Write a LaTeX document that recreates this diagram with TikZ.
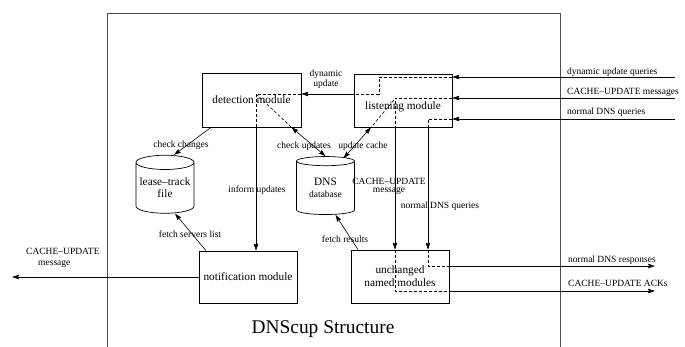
\documentclass[tikz,border=0pt]{standalone}
\usepackage{fontspec}
\setmainfont{Liberation Serif}
\usetikzlibrary{arrows.meta, shapes.geometric, positioning}

\tikzset{
    modulo/.style = {draw, line width=0.7pt, inner sep=0pt, align=center, font=\fontsize{11.3}{13}\selectfont},
    archivio/.style = {draw, cylinder, shape border rotate=90, aspect=0.28, line width=0.7pt, inner sep=0pt, align=center, minimum width=58pt, minimum height=58pt},
    etich/.style = {inner sep=0pt, align=center, font=\fontsize{9.5}{8}\selectfont},
    freccia/.style = {-{Stealth[length=7pt,width=4.5pt,inset=1pt]}, line width=0.6pt},
    dfreccia/.style = {{Stealth[length=7pt,width=4.5pt,inset=1pt]}-{Stealth[length=7pt,width=4.5pt,inset=1pt]}, line width=0.6pt},
    tratt/.style = {line width=0.6pt, dash pattern=on 3pt off 2pt},
}

\begin{document}
\begin{tikzpicture}[x=1pt, y=-1pt]
    % Parametri
    \pgfmathsetmacro{\lmod}{98}
    \pgfmathsetmacro{\hmod}{53}
    \useasboundingbox (0,0) rectangle (685,347);
    % Cornice
    \draw[line width=1pt, black!70] (107,347) -- (107,14) -- (560,14) -- (560,347);
    \node[inner sep=0pt, font=\fontsize{19.4}{20}\selectfont] (titolo) at (323,329) {DNScup Structure};
    % Moduli
    \node[modulo, minimum width=99pt, minimum height=54pt] (det) at (251.5,100) {detection module};
    \node[modulo, minimum width=\lmod pt, minimum height=\hmod pt] (ascolto) at (403,100.5) {};
    \node[modulo, draw=none] (ascoltotxt) at ([yshift=-6pt]ascolto.center) {listening module};
    \node[modulo, minimum width=\lmod pt, minimum height=52pt] (notif) at (248,277) {notification module};
    \node[modulo, minimum width=\lmod pt, minimum height=\hmod pt] (invariato) at (400,276.5) {unchanged\\named modules};
    % Archivi
    \node[archivio] (lease) at (165,188) {\fontsize{11.3}{11}\selectfont lease--track\\\fontsize{11.3}{11}\selectfont file};
    \node[archivio] (dnsdb) at (325.5,188) {\fontsize{11.3}{13}\selectfont DNS\\\fontsize{9.5}{11}\selectfont database};
    % Punti di ingresso e uscita
    \coordinate (inDyn) at (675,77);
    \coordinate (inCache) at (675,98);
    \coordinate (inQuery) at (675,119);
    \coordinate (outCache) at (12,277);
    \coordinate (outResp) at (655,266);
    \coordinate (outAck) at (655,291);
    % Punti di piega
    \coordinate (kDyn) at (379,94);
    \coordinate (kDet) at (256,94);
    \coordinate (kCache) at (395,98);
    \coordinate (kQuery) at (428,119);
    \coordinate (kUpd) at (394,100);
    % dynamic update
    \draw[freccia] (inDyn) -- (ascolto.east |- inDyn);
    \draw[tratt] (ascolto.east |- inDyn) -| (kDyn) -- (ascolto.west |- kDyn);
    \draw[freccia] (ascolto.west |- kDyn) -- (det.east |- kDyn);
    \draw[tratt] (det.east |- kDet) -- (kDet) -- (kDet |- det.south);
    \draw[freccia] (kDet |- det.south) -- (kDet |- notif.north);
    % CACHE-UPDATE
    \draw[freccia] (inCache) -- (ascolto.east |- inCache);
    \draw[tratt] (ascolto.east |- inCache) -- (kCache) -- (kCache |- ascolto.south);
    \draw[freccia] (kCache |- ascolto.south) -- (kCache |- invariato.north);
    \draw[tratt] (kCache |- invariato.north) |- (invariato.east |- outAck);
    \draw[freccia] (invariato.east |- outAck) -- (outAck);
    % normal DNS
    \draw[freccia] (inQuery) -- (ascolto.east |- inQuery);
    \draw[tratt] (ascolto.east |- inQuery) -- (kQuery) -- (kQuery |- ascolto.south);
    \draw[freccia] (kQuery |- ascolto.south) -- (kQuery |- invariato.north);
    \draw[tratt] (kQuery |- invariato.north) |- (invariato.east |- outResp);
    \draw[freccia] (invariato.east |- outResp) -- (outResp);
    % update cache e check updates
    \draw[tratt] (kUpd) -- ([xshift=-32pt]ascolto.south);
    \draw[dfreccia] ([xshift=-32pt]ascolto.south) -- ([xshift=18pt,yshift=-2pt]dnsdb.north);
    \draw[tratt] (kDet) -- ([xshift=40pt]det.south);
    \draw[dfreccia] ([xshift=40pt]det.south) -- (dnsdb.north);
    % archivi
    \draw[freccia] ([xshift=-40.5pt]det.south) -- ([xshift=9pt]lease.north);
    \draw[freccia] ([xshift=-42pt]notif.north) -- ([xshift=10pt]lease.south);
    \draw[freccia] ([xshift=-42pt]invariato.north) -- ([xshift=10pt]dnsdb.south);
    \draw[freccia] (notif.west) -- (outCache);
    % Etichette
    \node[etich, anchor=west] (lInDyn) at (567,72) {dynamic update queries};
    \node[etich, anchor=west] (lInCache) at (567,92) {CACHE--UPDATE messages};
    \node[etich, anchor=west] (lInQuery) at (567,112) {normal DNS queries};
    \node[etich, anchor=west] (lOutResp) at (568,260) {normal DNS responses};
    \node[etich, anchor=west] (lOutAck) at (568,283) {CACHE--UPDATE ACKs};
    \node[etich] (lDyn) at (326,79) {dynamic\\update};
    \node[etich] (lChk) at (181,145) {check changes};
    \node[etich] (lUpd) at (304,146) {check updates};
    \node[etich] (lCache) at (363,146) {update cache};
    \node[etich] (lInf) at (257,190) {inform updates};
    \node[etich] (lServ) at (190,234) {fetch servers list};
    \node[etich] (lRes) at (345,239) {fetch results};
    \node[etich] (lQuery) at (440,206) {normal DNS queries};
    \node[etich] (lMsg) at (389,186) {CACHE--UPDATE\\message};
    \node[etich, anchor=west, align=left, font=\fontsize{9.5}{11}\selectfont] (lOut) at (26,258) {CACHE--UPDATE\\\hspace*{12pt}message};
\end{tikzpicture}
\end{document}
